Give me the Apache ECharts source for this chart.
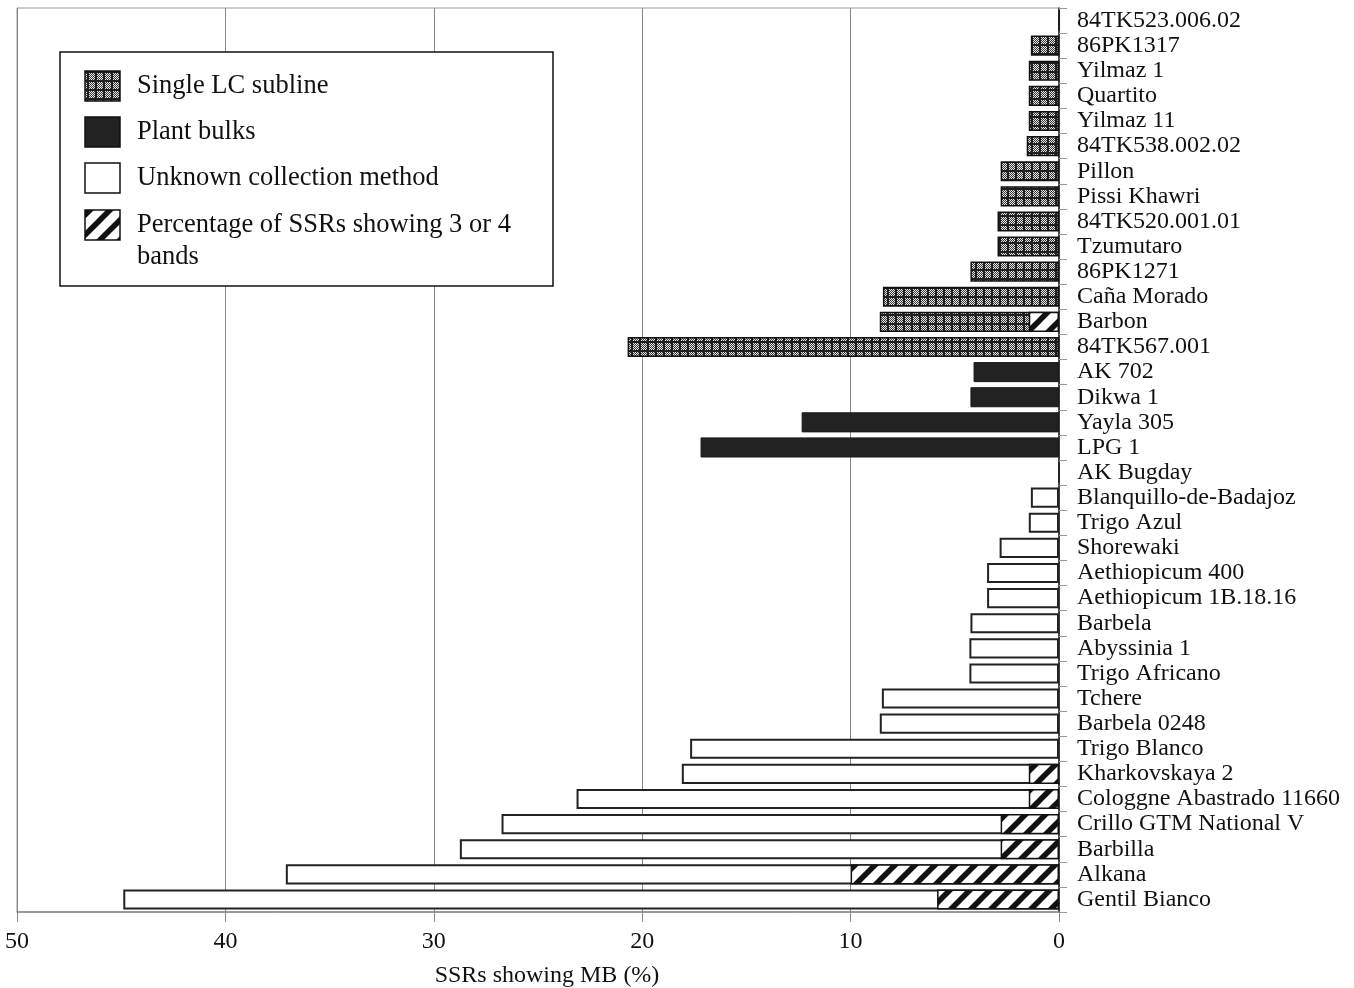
<!DOCTYPE html>
<html>
<head>
<meta charset="utf-8">
<title>SSRs showing MB</title>
<style>
  html, body { margin: 0; padding: 0; background: #fff; }
  #chart { width: 1354px; height: 988px; }
</style>
<script src="https://cdn.jsdelivr.net/npm/echarts@6/dist/echarts.min.js"></script>
</head>
<body>
<div id="chart"></div>
<script>
// categories top to bottom
const categories = [
  '84TK523.006.02', '86PK1317', 'Yilmaz 1', 'Quartito', 'Yilmaz 11', '84TK538.002.02',
  'Pillon', 'Pissi Khawri', '84TK520.001.01', 'Tzumutaro', '86PK1271', 'Caña Morado',
  'Barbon', '84TK567.001',
  'AK 702', 'Dikwa 1', 'Yayla 305', 'LPG 1',
  'AK Bugday', 'Blanquillo-de-Badajoz', 'Trigo Azul', 'Shorewaki', 'Aethiopicum 400',
  'Aethiopicum 1B.18.16', 'Barbela', 'Abyssinia 1', 'Trigo Africano', 'Tchere',
  'Barbela 0248', 'Trigo Blanco', 'Kharkovskaya 2', 'Cologgne Abastrado 11660',
  'Crillo GTM National V', 'Barbilla', 'Alkana', 'Gentil Bianco'
];

// % SSRs showing MB, by group (same order as categories)
const singleLC = [0, 1.35, 1.45, 1.45, 1.45, 1.55, 2.8, 2.8, 2.95, 2.95, 4.25, 8.45, 8.6, 20.7];
const plantBulks = [4.1, 4.25, 12.35, 17.2];
const unknownMethod = [0, 1.35, 1.45, 2.85, 3.45, 3.45, 4.25, 4.3, 4.3, 8.5, 8.6, 17.7,
  18.1, 23.15, 26.75, 28.75, 37.1, 44.9];

// % SSRs showing 3 or 4 bands
const hatchNames = ['Barbon', 'Kharkovskaya 2', 'Cologgne Abastrado 11660',
  'Crillo GTM National V', 'Barbilla', 'Alkana', 'Gentil Bianco'];
const hatchValues = [1.45, 1.45, 1.45, 2.8, 2.8, 10, 5.85];

const xTicks = [0, 10, 20, 30, 40, 50];

const FONT = 'Liberation Serif';

// 填充图案
function dotTile() {
  const c = document.createElement('canvas');
  c.width = 8; c.height = 9;
  const g = c.getContext('2d');
  g.fillStyle = '#1e1e1e';
  g.fillRect(0, 0, 8, 9);
  for (let x = 1; x < 7; x++) {
    for (let y = 1; y < 8; y++) {
      g.fillStyle = (x + y) % 2 ? '#3a3a3a' : '#e4e4e4';
      g.fillRect(x, y, 1, 1);
    }
  }
  return c;
}
function hatchTile() {
  const s = 20;
  const c = document.createElement('canvas');
  c.width = s; c.height = s;
  const g = c.getContext('2d');
  g.fillStyle = '#fff';
  g.fillRect(0, 0, s, s);
  g.strokeStyle = '#111';
  g.lineWidth = 5.5;
  [-s, 0, s].forEach(o => {
    g.beginPath();
    g.moveTo(o - s, 2 * s);
    g.lineTo(o + 2 * s, -s);
    g.stroke();
  });
  return c;
}
const dotFill = { image: dotTile(), repeat: 'repeat' };
const hatchFill = { image: hatchTile(), repeat: 'repeat' };

// 把分组数据铺到完整的类目长度
function spread(values, start) {
  return categories.map((_, i) =>
    i >= start && i < start + values.length ? values[i - start] : '-');
}
const hatchData = categories.map(n => {
  const k = hatchNames.indexOf(n);
  return k < 0 ? '-' : hatchValues[k];
});

const barBase = {
  type: 'bar',
  barGap: '-100%',
  barCategoryGap: '20%',
  silent: true
};

const chart = echarts.init(document.getElementById('chart'));

const legendFont = '26.5px "' + FONT + '"';
const legendItems = [
  { fill: dotFill, text: 'Single LC subline', y: 71 },
  { fill: '#222', text: 'Plant bulks', y: 117 },
  { fill: '#fff', text: 'Unknown collection method', y: 163 },
  { fill: hatchFill, text: 'Percentage of SSRs showing 3 or 4', y: 210 }
];
const legendGraphic = [{
  type: 'rect',
  shape: { x: 60, y: 52, width: 493, height: 234 },
  style: { fill: '#fff', stroke: '#111', lineWidth: 1.5 },
  z: 10
}];
legendItems.forEach(it => {
  legendGraphic.push({
    type: 'rect',
    shape: { x: 85, y: it.y, width: 35, height: 30 },
    style: { fill: it.fill, stroke: '#111', lineWidth: 1.5 },
    z: 11
  });
  legendGraphic.push({
    type: 'text',
    x: 137, y: it.y + 15,
    style: { text: it.text, font: legendFont, fill: '#111', verticalAlign: 'middle' },
    z: 11
  });
});
legendGraphic.push({
  type: 'text',
  x: 137, y: 257,
  style: { text: 'bands', font: legendFont, fill: '#111', verticalAlign: 'middle' },
  z: 11
});

const option = {
  animation: false,
  backgroundColor: '#fff',
  textStyle: { fontFamily: FONT, color: '#111' },
  grid: {
    left: 17, right: 295, top: 8, bottom: 76,
    outerBoundsMode: 'none',
    show: true, borderColor: '#999', borderWidth: 1
  },
  xAxis: {
    type: 'value',
    inverse: true,
    min: xTicks[0],
    max: xTicks[xTicks.length - 1],
    interval: 10,
    name: 'SSRs showing MB (%)',
    nameLocation: 'middle',
    nameGap: 52,
    nameTextStyle: { fontSize: 24, color: '#111', fontFamily: FONT, padding: [0, 0, 0, 18] },
    axisLine: { show: true, lineStyle: { color: '#888', width: 1.5 } },
    axisTick: { show: true, length: 10, lineStyle: { color: '#888' } },
    axisLabel: { fontSize: 24, color: '#111', fontFamily: FONT, margin: 18 },
    splitLine: { show: true, lineStyle: { color: '#888', width: 1 } }
  },
  yAxis: {
    type: 'category',
    data: categories,
    inverse: true,
    position: 'right',
    axisLine: { show: true, lineStyle: { color: '#222', width: 1.5 } },
    axisTick: { show: true, length: 8, lineStyle: { color: '#999' } },
    axisLabel: {
      fontSize: 24, color: '#111', fontFamily: FONT, margin: 18, interval: 0,
      padding: [10, 0, 0, 0]
    },
    splitLine: { show: false }
  },
  series: [
    Object.assign({}, barBase, {
      name: 'Single LC subline',
      data: spread(singleLC, 0),
      itemStyle: { color: dotFill, borderColor: '#111', borderWidth: 1.5 }
    }),
    Object.assign({}, barBase, {
      name: 'Plant bulks',
      data: spread(plantBulks, 14),
      itemStyle: { color: '#222', borderColor: '#1a1a1a', borderWidth: 1 }
    }),
    Object.assign({}, barBase, {
      name: 'Unknown collection method',
      data: spread(unknownMethod, 18),
      itemStyle: { color: '#fff', borderColor: '#222', borderWidth: 2 }
    }),
    Object.assign({}, barBase, {
      name: 'Percentage of SSRs showing 3 or 4 bands',
      data: hatchData,
      itemStyle: { color: hatchFill, borderColor: '#111', borderWidth: 1.5 }
    })
  ],
  graphic: legendGraphic
};

chart.setOption(option);
</script>
</body>
</html>
